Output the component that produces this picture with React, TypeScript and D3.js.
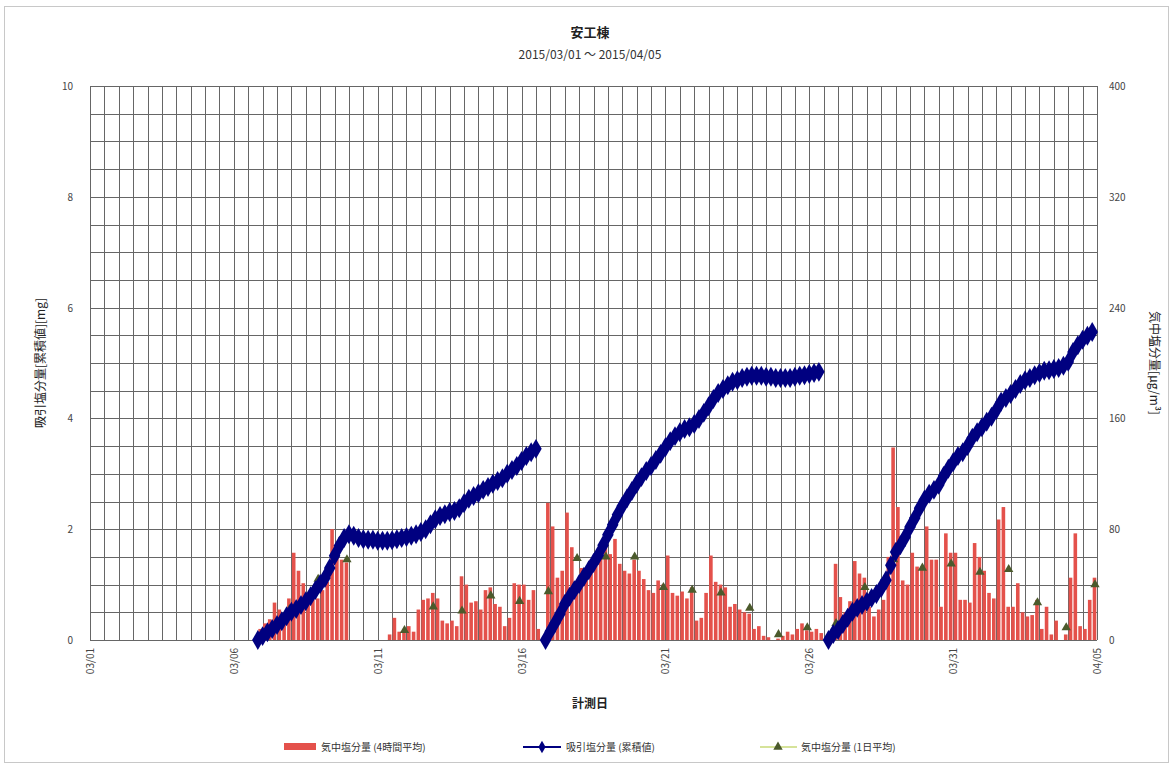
import React from "react";
import * as d3 from "d3";

// ---- data ----
const chartTitle = "安工棟";
const chartPeriod = "2015/03/01 ～ 2015/04/05";
const xAxisTitle = "計測日";
const leftAxisTitle = "吸引塩分量[累積値][mg]";
const rightAxisTitle = "気中塩分量[μg/m³]";
const legendLabels = ["気中塩分量 (4時間平均)", "吸引塩分量 (累積値)", "気中塩分量 (1日平均)"];

// day index 0 = 03/01
const dateTicks = [0, 5, 10, 15, 20, 25, 30, 35];
const dateTickLabels = ["03/01", "03/06", "03/11", "03/16", "03/21", "03/26", "03/31", "04/05"];
const leftTicks = [0, 2, 4, 6, 8, 10];
const rightTicks = [0, 80, 160, 240, 320, 400];

// 4-hour averages [μg/m³], six values per day, first row = day index 5 (03/06)
const airSaltFirstDay = 5;
const airSalt4h: number[][] = [
  [0, 0, 0, 0, 0, 8],
  [12, 15, 27, 22, 18, 30],
  [63, 50, 41, 32, 34, 30],
  [36, 42, 80, 66, 58, 56],
  [0, 0, 0, 0, 0, 0],
  [0, 0, 4, 16, 6, 8],
  [10, 6, 22, 29, 30, 34],
  [30, 14, 12, 14, 10, 46],
  [40, 27, 28, 22, 36, 38],
  [26, 24, 10, 16, 41, 40],
  [40, 29, 36, 8, 0, 99],
  [82, 45, 50, 92, 67, 38],
  [52, 48, 58, 62, 68, 72],
  [62, 73, 55, 50, 48, 58],
  [50, 44, 36, 34, 43, 40],
  [61, 34, 32, 35, 30, 38],
  [14, 16, 34, 61, 42, 40],
  [38, 24, 26, 22, 20, 19],
  [8, 10, 3, 2, 0, 1],
  [3, 6, 4, 8, 12, 7],
  [6, 8, 5, 0, 3, 55],
  [31, 20, 28, 57, 48, 45],
  [24, 17, 22, 29, 60, 139],
  [96, 43, 40, 63, 53, 53],
  [82, 58, 58, 24, 77, 63],
  [63, 29, 29, 27, 70, 60],
  [50, 34, 30, 87, 96, 24],
  [24, 41, 20, 17, 18, 29],
  [8, 24, 4, 14, 0, 4],
  [45, 77, 10, 8, 29, 45],
];

// daily averages [μg/m³]
const dailyDays = [7, 8, 9, 11, 12, 13, 14, 15, 16, 17, 18, 19, 20, 21, 22, 23, 24, 25, 26, 27, 28, 29, 30, 31, 32, 33, 34, 35];
const dailyAvg = [22, 44, 58, 7, 24, 21, 32, 28, 35, 59, 60, 60, 38, 36, 34, 23, 4, 9, 12, 38, 58, 52, 55, 49, 51, 27, 9, 40];

// cumulative intake [mg], one value per 4 hours
const cumStart1 = 5 + 5 / 6;
const cumulative1 = [
  0, 0.07, 0.14, 0.2, 0.27, 0.34, 0.43, 0.51, 0.56, 0.63, 0.7, 0.79, 0.9, 1.01, 1.12, 1.3,
  1.52, 1.7, 1.84, 1.91, 1.88, 1.84, 1.82, 1.81, 1.81, 1.79, 1.79, 1.79, 1.8, 1.82, 1.84,
  1.86, 1.88, 1.91, 1.95, 2.0, 2.09, 2.18, 2.24, 2.27, 2.31, 2.33, 2.38, 2.47, 2.55, 2.6,
  2.65, 2.71, 2.76, 2.82, 2.87, 2.92, 3.0, 3.07, 3.14, 3.23, 3.32, 3.39, 3.45,
];
const cumStart2 = 15 + 5 / 6;
const cumulative2 = [
  0, 0.16, 0.31, 0.47, 0.65, 0.78, 0.9, 1.01, 1.14, 1.26, 1.39, 1.53, 1.71, 1.9, 2.08, 2.26,
  2.42, 2.56, 2.69, 2.82, 2.94, 3.05, 3.14, 3.25, 3.36, 3.48, 3.59, 3.68, 3.75, 3.81, 3.84,
  3.9, 3.99, 4.1, 4.22, 4.35, 4.46, 4.53, 4.6, 4.66, 4.69, 4.73, 4.75, 4.77, 4.77, 4.77,
  4.75, 4.75, 4.73, 4.73, 4.73, 4.73, 4.75, 4.77, 4.78, 4.8, 4.82, 4.84,
];
const cumStart3 = 25 + 4 / 6;
const cumulative3 = [
  0, 0.11, 0.18, 0.29, 0.4, 0.51, 0.58, 0.63, 0.69, 0.76, 0.83, 0.94, 1.08, 1.35, 1.59, 1.71,
  1.86, 2.04, 2.2, 2.38, 2.53, 2.64, 2.71, 2.8, 2.96, 3.09, 3.21, 3.32, 3.39, 3.5, 3.65,
  3.75, 3.84, 3.94, 4.03, 4.15, 4.3, 4.37, 4.44, 4.53, 4.62, 4.69, 4.73, 4.78, 4.82, 4.86,
  4.87, 4.89, 4.91, 4.95, 5.02, 5.2, 5.32, 5.42, 5.49, 5.56,
];

// ---- layout ----
const W = 1174;
const H = 769;
const plot = { left: 90, right: 1097, top: 86, bottom: 640 };
const FONT = "'Noto Sans CJK JP', 'Noto Sans', sans-serif";

const barColor = "#e4514b";
const cumColor = "#000080";
const dailyColor = "#4b5a2c";
const gridColor = "#666666";

export default function App() {
  const x = d3.scaleLinear().domain([0, 35]).range([plot.left, plot.right]);
  const yL = d3.scaleLinear().domain([0, 10]).range([plot.bottom, plot.top]);
  const yR = d3.scaleLinear().domain([0, 400]).range([plot.bottom, plot.top]);

  const binW = x(1 / 6) - x(0);

  const bars: { t: number; v: number }[] = [];
  airSalt4h.forEach((row, i) =>
    row.forEach((v, j) => bars.push({ t: airSaltFirstDay + i + j / 6, v }))
  );

  const segments = [
    { start: cumStart1, vals: cumulative1 },
    { start: cumStart2, vals: cumulative2 },
    { start: cumStart3, vals: cumulative3 },
  ].map((s) => s.vals.map((v, i) => ({ t: s.start + i / 6, v })));

  const line = d3
    .line<{ t: number; v: number }>()
    .x((d) => x(d.t))
    .y((d) => yL(d.v));

  const diamond = d3.symbol().type(d3.symbolDiamond).size(115)()!;
  const triangle = d3.symbol().type(d3.symbolTriangle).size(38)()!;
  const legendDiamond = d3.symbol().type(d3.symbolDiamond).size(45)()!;

  const vGrid = d3.range(0, 35.001, 0.5);
  const hGrid = d3.range(0, 10.001, 0.5);

  const legendY = 747;

  return (
    <svg width={W} height={H} style={{ display: "block", position: "absolute", left: 0, top: 0, background: "#fff" }}>
      <rect x={4.5} y={6.5} width={W - 10} height={H - 13} fill="#fff" stroke="#c8c8c8" />

      {/* title */}
      <text x={590} y={37} textAnchor="middle" fontFamily={FONT} fontSize={13} fontWeight={600} fill="#222">
        {chartTitle}
      </text>
      <text x={590} y={59} textAnchor="middle" fontFamily={FONT} fontSize={12} fill="#333">
        {chartPeriod}
      </text>

      {/* grid */}
      <g stroke={gridColor} strokeWidth={1}>
        {vGrid.map((d) => (
          <line key={"v" + d} x1={Math.round(x(d)) + 0.5} x2={Math.round(x(d)) + 0.5} y1={plot.top} y2={plot.bottom} />
        ))}
        {hGrid.map((d) => (
          <line key={"h" + d} x1={plot.left} x2={plot.right} y1={Math.round(yL(d)) + 0.5} y2={Math.round(yL(d)) + 0.5} />
        ))}
      </g>

      {/* 4-hour bars */}
      <g fill={barColor}>
        {bars
          .filter((b) => b.v > 0)
          .map((b, i) => (
            <rect key={i} x={x(b.t) + 0.5} y={yR(b.v)} width={binW - 1.2} height={plot.bottom - yR(b.v)} />
          ))}
      </g>

      {/* daily averages */}
      <g fill={dailyColor}>
        {dailyDays.map((d, i) => (
          <path key={i} d={triangle} transform={`translate(${x(d) - 2},${yR(dailyAvg[i])})`} />
        ))}
      </g>

      {/* cumulative intake */}
      {segments.map((seg, i) => (
        <g key={i}>
          <path d={line(seg)!} fill="none" stroke={cumColor} strokeWidth={3} />
          {seg.map((p, j) => (
            <path key={j} d={diamond} transform={`translate(${x(p.t)},${yL(p.v)})`} fill={cumColor} />
          ))}
        </g>
      ))}

      {/* axes labels */}
      <g fontFamily={FONT} fontSize={10} fill="#444">
        {leftTicks.map((t) => (
          <text key={"l" + t} x={73} y={yL(t) + 4} textAnchor="end">
            {t}
          </text>
        ))}
        {rightTicks.map((t) => (
          <text key={"r" + t} x={1109} y={yR(t) + 4} textAnchor="start">
            {t}
          </text>
        ))}
        {dateTicks.map((d, i) => (
          <text
            key={"d" + d}
            transform={`translate(${x(d) + 4},${plot.bottom + 8}) rotate(-90)`}
            textAnchor="end"
          >
            {dateTickLabels[i]}
          </text>
        ))}
      </g>

      <text x={590} y={708} textAnchor="middle" fontFamily={FONT} fontSize={12} fontWeight={600} fill="#222">
        {xAxisTitle}
      </text>
      <text
        transform={`translate(45,${(plot.top + plot.bottom) / 2}) rotate(-90)`}
        textAnchor="middle"
        fontFamily={FONT}
        fontSize={12}
        fill="#222"
      >
        {leftAxisTitle}
      </text>
      <text
        transform={`translate(1150,${(plot.top + plot.bottom) / 2}) rotate(90)`}
        textAnchor="middle"
        fontFamily={FONT}
        fontSize={12}
        fill="#222"
      >
        {rightAxisTitle}
      </text>

      {/* legend */}
      <g fontFamily={FONT} fontSize={10} fill="#333">
        <rect x={284} y={legendY - 4} width={32} height={7} fill={barColor} />
        <text x={321} y={legendY + 4}>{legendLabels[0]}</text>

        <line x1={523} x2={561} y1={legendY} y2={legendY} stroke={cumColor} strokeWidth={2} />
        <path d={legendDiamond} transform={`translate(542,${legendY})`} fill={cumColor} />
        <text x={566} y={legendY + 4}>{legendLabels[1]}</text>

        <line x1={760} x2={797} y1={legendY} y2={legendY} stroke="#d6e39a" strokeWidth={2} />
        <path d={triangle} transform={`translate(778,${legendY})`} fill={dailyColor} />
        <text x={801} y={legendY + 4}>{legendLabels[2]}</text>
      </g>
    </svg>
  );
}
